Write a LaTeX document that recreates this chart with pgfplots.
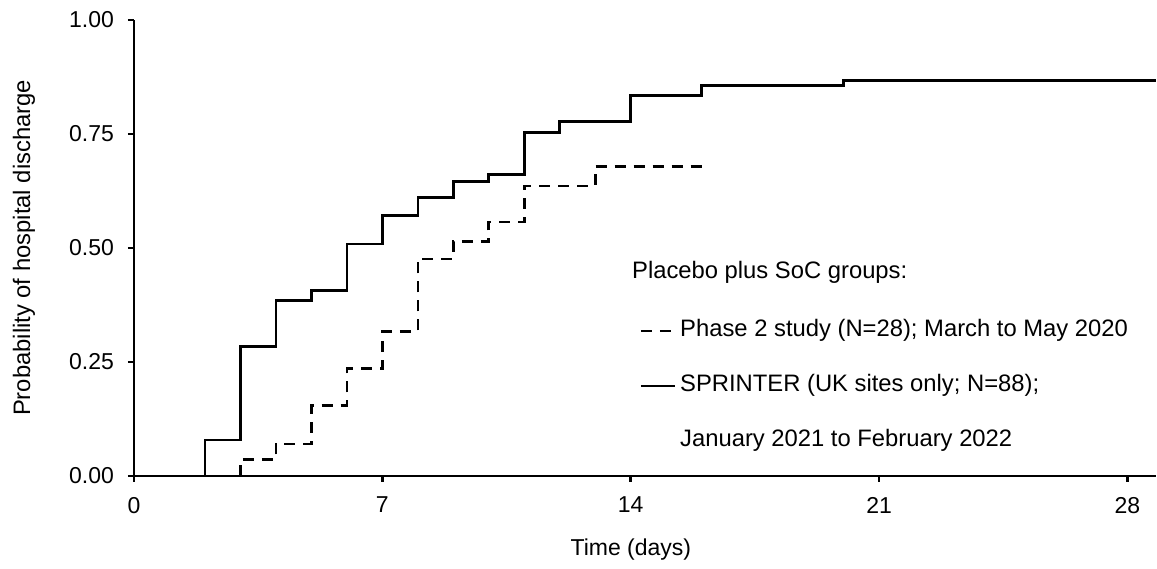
\documentclass[border=0pt]{standalone}
\usepackage{pgfplots}
\pgfplotsset{compat=1.18}
\usepackage{fontspec}
\setmainfont{Liberation Sans}

\begin{document}
\fontsize{11.5}{14}\selectfont
\begin{tikzpicture}
\begin{axis}[
    scale only axis,
    width=511pt, height=228pt,
    xmin=0, xmax=28.8,
    ymin=0, ymax=1,
    axis x line*=bottom,
    axis y line*=left,
    axis line style={line width=1.2pt},
    xtick={0,7,14,21,28},
    ytick={0,0.25,0.5,0.75,1},
    tick align=outside,
    major tick length=3pt,
    tick style={line width=1.2pt, black},
    /pgf/number format/assume math mode=true,
    xticklabel style={yshift=-3.5pt},
    yticklabel style={xshift=-3pt, /pgf/number format/.cd, fixed, fixed zerofill, precision=2},
    every axis y label/.style={at={(axis description cs:-0.1076,0.5)}, rotate=90, anchor=center,
        font=\fontsize{11.9}{14}\selectfont},
    every axis x label/.style={at={(axis description cs:0.4863,-0.1754)}, anchor=base},
    xlabel={Time (days)},
    ylabel={Probability of hospital discharge},
    legend image code/.code={\draw[#1] (0pt,0pt) -- (17pt,0pt);},
    legend cell align=left,
    legend style={
        at={(axis cs:14.24,0.342)}, anchor=north west,
        draw=none, fill=none, inner sep=0pt,
        row sep=17pt, column sep=2pt,
        font=\fontsize{11.9}{14}\selectfont,
        nodes={inner sep=0pt, text height=8pt, text depth=2.5pt},
    },
]
    % Phase 2 study, placebo plus SoC
    \addplot[const plot, black, line width=1.3pt, dash pattern=on 5.5pt off 4pt]
        coordinates {
        (3,0) (3,0.036) (4,0.070) (5,0.155) (6,0.235) (7,0.317)
        (8,0.476) (9,0.514) (10,0.557) (11,0.636) (13,0.679) (16,0.679)
        };
    \addlegendentry{Phase 2 study (N=28); March to May 2020}

    % SPRINTER, UK sites only
    \addplot[const plot, black, line width=1.3pt]
        coordinates {
        (2,0) (2,0.079) (3,0.284) (4,0.385) (5,0.407) (6,0.509) (7,0.571)
        (8,0.611) (9,0.646) (10,0.661) (11,0.753) (12,0.777) (14,0.834)
        (16,0.856) (20,0.867) (28.8,0.867)
        };
    \addlegendentry{SPRINTER (UK sites only; N=88);}
    \addlegendimage{empty legend}
    \addlegendentry{January 2021 to February 2022}

    \node[anchor=base west, inner sep=0pt, font=\fontsize{11.9}{14}\selectfont]
        at (axis cs:14.03,0.434) {Placebo plus SoC groups:};
\end{axis}
\path[use as bounding box]
    ([shift={(-67pt,-46pt)}]current axis.south west)
    rectangle ([shift={(0.5pt,10pt)}]current axis.north east);
\end{tikzpicture}
\end{document}
